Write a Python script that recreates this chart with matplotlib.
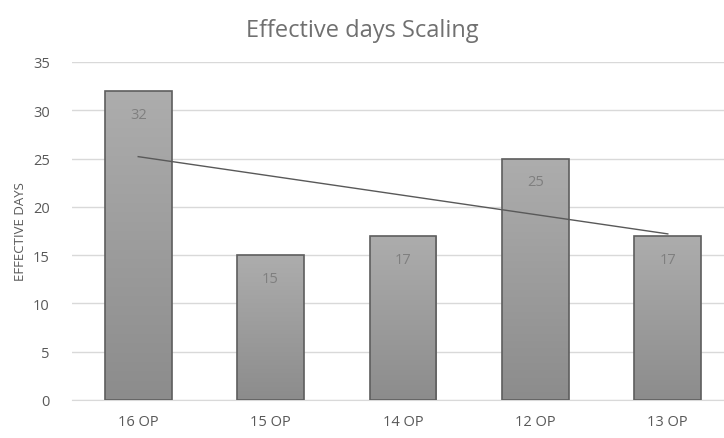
import numpy as np
import matplotlib
matplotlib.use("Agg")
import matplotlib.pyplot as plt

categories = ["16 OP", "15 OP", "14 OP", "12 OP", "13 OP"]
days = [32, 15, 17, 25, 17]
yticks = [0, 5, 10, 15, 20, 25, 30, 35]

plt.rcParams['font.family'] = ['Open Sans', 'DejaVu Sans']
txt = '#595959'

fig = plt.figure(figsize=(7.24, 4.39), dpi=100)
ax = fig.add_axes([72/724, 38/439, 1 - 72/724, (401-63)/439])

x = np.arange(len(days))
bars = ax.bar(x, days, width=0.505, facecolor='none', edgecolor='#5e5e5e',
              linewidth=1.2, zorder=3)

# vertical grey gradient inside each bar
grad = np.linspace(0, 1, 256).reshape(-1, 1)
cmap = matplotlib.colors.LinearSegmentedColormap.from_list('g', ['#8c8c8c', '#adadad'])
for b in bars:
    x0, w, h = b.get_x(), b.get_width(), b.get_height()
    im = ax.imshow(grad, cmap=cmap, aspect='auto', origin='lower',
                   extent=[x0, x0 + w, 0, h], zorder=2)
    im.set_clip_path(b)

for xi, v in zip(x, days):
    ax.text(xi, v - 2.4, str(v), ha='center', va='center', fontsize=10.5,
            color='#7f7f7f', zorder=4)

# linear trendline
k, c = np.polyfit(x, days, 1)
ax.plot(x, k * x + c, color='#595959', linewidth=1, zorder=5)

ax.set_xlim(-0.5, (724 - 72) / 132.4 - 0.5)
ax.set_ylim(0, 35)
ax.set_yticks(yticks)
ax.set_xticks(x)
ax.set_xticklabels(categories)
ax.grid(axis='y', color='#d9d9d9', linewidth=1, zorder=0)
ax.set_axisbelow(True)
for s in ['top', 'right', 'left']:
    ax.spines[s].set_visible(False)
ax.spines['bottom'].set_color('#d9d9d9')
ax.tick_params(length=0, colors=txt, labelsize=10.5)
ax.tick_params(axis='y', pad=16)
ax.tick_params(axis='x', pad=10)
ax.set_ylabel('EFFECTIVE DAYS', color=txt, fontsize=9.5, labelpad=4)

fig.text(0.5, 1 - 31/439, 'Effective days Scaling', ha='center', va='center',
         fontsize=17, color='#707070')

fig.savefig('out.png', dpi=100)
